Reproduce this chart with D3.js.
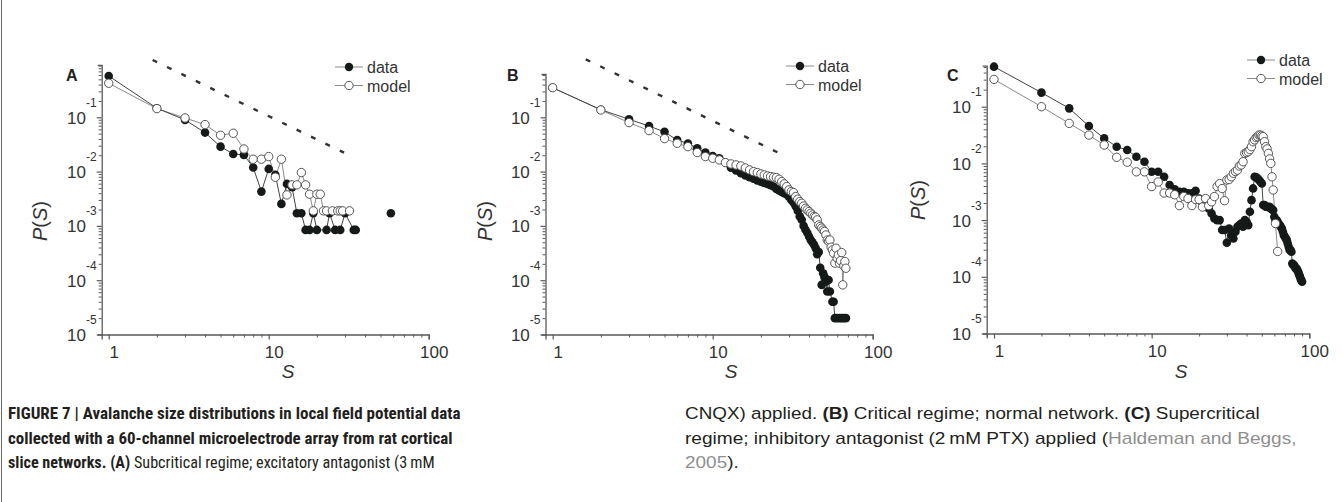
<!DOCTYPE html>
<html><head><meta charset="utf-8">
<script src="https://cdn.jsdelivr.net/npm/d3@7"></script>
<style>
body{margin:0;background:#fff;}
svg{display:block;}
</style></head><body>
<svg id="fig" width="1342" height="502"></svg>
<script>
// ---------------- data ----------------
const panelLabels = ["A", "B", "C"];
const xTickValues = [1, 10, 100];
const yTickExponents = [-1, -2, -3, -4, -5];
const legendLabels = ["data", "model"];

// Panel A (subcritical)
const aDataS  = [1,2,3,4,5,6,7,8,9,10,11,12,13,14,15,16,17,18,19,20,23,24,26,28,30,34,35,null,58];
const aDataP  = [0.577,0.147,0.0893,0.0523,0.0288,0.0211,0.0203,0.0119,0.00428,0.0112,0.00869,0.00254,0.00593,0.00515,0.00171,0.00171,0.000843,0.000843,0.00171,0.000843,0.000843,0.00171,0.000843,0.000843,0.00171,0.000843,0.000843,null,0.00171];
const aModelS = [1,2,3,4,5,6,7,8,9,10,11,12,13,14,15,16,17,18,19,20,21,22,23,25,27,28,29,32];
const aModelP = [0.423,0.1445,0.0972,0.0733,0.0467,0.0508,0.0261,0.0169,0.0169,0.0189,0.00787,0.0169,0.00372,0.00569,0.00569,0.0096,0.00569,0.00383,0.00189,0.00383,0.00383,0.00189,0.00189,0.00189,0.00189,0.00189,0.00189,0.00189];
const aGuideS = [1.88, 29.6];
const aGuideP = [1.135, 0.0223];

// Panel B (critical)
const bDataS  = [1,2,3,4,5,6,7,8,9,10,11,12,13,14,15,16,17,18,19,20,21,22,23,24,25,26,27,28,29,30,31,32,33,34,35,36,37,38,39,40,41,42,43,44,45,46,47,48,49,50,51,52,53,54,56,57,58,60,62,64,66,68];
const bDataP  = [0.35,0.138,0.092,0.069,0.054,0.038,0.033,0.027,0.0224,0.0194,0.0176,0.0147,0.0118,0.0105,0.0093,0.0085,0.0079,0.0074,0.0069,0.0065,0.0062,0.0059,0.0056,0.0053,0.0048,0.0045,0.0042,0.0040,0.0038,0.0034,0.0030,0.0027,0.0023,0.0019,0.0015,0.0013,0.0010,0.00085,0.00075,0.00064,0.00055,0.00050,0.00045,0.00039,0.00030,0.00033,0.00017,0.000082,0.000134,0.000115,0.000095,0.000062,0.000101,0.000062,0.00004,0.00004,0.00002,0.00002,0.00002,0.00002,0.00002,0.00002];
const bModelS = [1,2,3,4,5,6,7,8,9,10,11,12,13,14,15,16,17,18,19,20,21,22,23,24,25,26,27,28,29,30,31,32,33,34,35,36,37,38,39,40,41,42,43,44,45,46,47,48,49,50,51,52,53,54,55,56,57,58,59,60,61,62,63,64,65,66,67,68];
const bModelP = [0.351,0.1364,0.0798,0.0569,0.0405,0.0332,0.0288,0.0224,0.0189,0.0176,0.0164,0.01465,0.01384,0.01327,0.0127,0.01167,0.01074,0.0100,0.0096,0.00906,0.00869,0.00832,0.00809,0.00787,0.00776,0.00723,0.00655,0.00593,0.0053,0.0046,0.00428,0.0041,0.00347,0.0031,0.0028,0.00261,0.00233,0.00211,0.00197,0.00184,0.00171,0.00159,0.00149,0.00145,0.00129,0.00104,0.00097,0.00091,0.00084,0.00079,0.00068,0.00055,0.00052,0.00055,0.000404,0.000361,0.000314,0.000206,0.000388,0.000254,0.000292,0.000206,0.00023,0.000323,0.000082,0.000184,0.000221,0.000166];
const bGuideS = [1.61, 25.7];
const bGuideP = [1.17, 0.0223];

// Panel C (supercritical)
const cDataS  = [1,2,3,4,5,6,7,8,9,10,11,12,13,14,15,16,17,18,19,20,21,22,23,24,25,26,27,28,29,30,31,32,33,34,35,36,37,38,39,40,41,42,43,44,45,46,47,48,49,50,51,52,53,54,55,56,57,58,59,60,61,62,63,64,65,66,67,68,69,70,71,72,73,74,75,76,77,78,79,80,81,82,83,84,85,86,87,88,89,90];
const cDataP  = [0.508,0.177,0.0935,0.0456,0.0276,0.0197,0.0172,0.0131,0.0107,0.00713,0.00713,0.00582,0.00415,0.00348,0.00316,0.00316,0.00296,0.00296,0.0033,0.00241,0.00197,0.00184,0.00161,0.00131,0.00107,0.0010,0.0010,0.000667,0.000667,0.000398,0.000713,0.000543,0.000474,0.000622,0.000762,0.000816,0.000873,0.000762,0.0010,0.000935,0.000816,0.0014,0.00225,0.00362,0.00582,0.00566,0.00543,0.00508,0.00474,0.00443,0.00184,0.00184,0.00172,0.00172,0.00168,0.00172,0.00161,0.00154,0.0015,0.00114,0.0010,0.0010,0.000935,0.00085,0.000816,0.000762,0.000713,0.000622,0.000543,0.000508,0.000474,0.000443,0.000387,0.000338,0.000296,0.000296,0.000276,0.000172,0.000161,0.000161,0.00015,0.00014,0.00014,0.000131,0.000123,0.000111,0.000103,0.0000935,0.0000873,0.0000817];
const cModelS = [1,2,3,4,5,6,7,8,9,10,11,12,13,14,15,16,17,18,19,20,21,22,23,24,25,26,27,28,29,30,31,32,33,34,35,36,37,38,39,40,41,42,43,44,45,46,47,48,49,50,51,52,53,54,55,56,57,58,59,61,63];
const cModelP = [0.303,0.100,0.0508,0.0316,0.0211,0.0128,0.0105,0.0071,0.0071,0.0039,0.0047,0.0030,0.0030,0.0028,0.0018,0.0026,0.0024,0.0018,0.0023,0.0023,0.0017,0.0024,0.0018,0.0021,0.0026,0.0039,0.0044,0.0036,0.0022,0.0051,0.0052,0.0058,0.0067,0.0072,0.0076,0.0090,0.0094,0.0107,0.0150,0.0155,0.0161,0.0175,0.0197,0.0241,0.0260,0.0285,0.0296,0.0316,0.0316,0.0305,0.0296,0.0241,0.0197,0.0180,0.0150,0.0120,0.0100,0.0058,0.0034,0.00087,0.00028];

// caption
const captionLeft = [
  [["b","FIGURE 7 | Avalanche size distributions in local field potential data"]],
  [["b","collected with a 60-channel microelectrode array from rat cortical"]],
  [["b","slice networks. (A)"],["r"," Subcritical regime; excitatory antagonist (3\u2009mM"]]
];
const captionRight = [
  [["r","CNQX) applied. "],["b","(B)"],["r"," Critical regime; normal network. "],["b","(C)"],["r"," Supercritical"]],
  [["r","regime; inhibitory antagonist (2\u2009mM PTX) applied ("],["g","Haldeman and Beggs,"]],
  [["g","2005"],["r",")."]]
];

// ---------------- layout ----------------
const svg = d3.select("#fig");
const FONT = "'Liberation Sans', Arial, Helvetica, sans-serif";
const AXIS = "#5a5a5a";

svg.append("line").attr("x1",1.5).attr("x2",1.5).attr("y1",0).attr("y2",502)
  .attr("stroke","#6a6a6a").attr("stroke-width",1);

const zip = (S, P) => S.map((s, i) => [s, P[i]]);

const panels = [
  { label: panelLabels[0], labelXY: [66, 81],
    xDom: [Math.pow(10,-0.0439), 100], xRng: [101.7, 428.7],
    yDom: [1e-5, Math.pow(10,-0.037)], yRng: [334.5, 65],
    data: zip(aDataS, aDataP), model: zip(aModelS, aModelP), guide: zip(aGuideS, aGuideP),
    legend: [335, 67], yLab: [47, 221], xLab: [288, 378] },
  { label: panelLabels[1], labelXY: [507, 81],
    xDom: [Math.pow(10,-0.045), 100], xRng: [545.5, 872.7],
    yDom: [1e-5, Math.pow(10,-0.2026)], yRng: [334.5, 74],
    data: zip(bDataS, bDataP), model: zip(bModelS, bModelP), guide: zip(bGuideS, bGuideP),
    legend: [786, 66], yLab: [492, 221], xLab: [731, 378] },
  { label: panelLabels[2], labelXY: [947, 81],
    xDom: [Math.pow(10,-0.0463), 100], xRng: [986.7, 1309.3],
    yDom: [1e-5, Math.pow(10,-0.277)], yRng: [333.5, 65.7],
    data: zip(cDataS, cDataP), model: zip(cModelS, cModelP), guide: null,
    legend: [1247, 60], yLab: [925, 200], xLab: [1181, 378] }
];

function minorTicks(lo, hi) {
  const out = [];
  for (let e = Math.floor(Math.log10(lo)); e <= Math.ceil(Math.log10(hi)); e++) {
    for (let m = 2; m <= 9; m++) {
      const v = m * Math.pow(10, e);
      if (v > lo && v < hi) out.push(v);
    }
  }
  return out;
}

panels.forEach(p => {
  const g = svg.append("g");
  const x = d3.scaleLog().domain(p.xDom).range(p.xRng);
  const y = d3.scaleLog().domain(p.yDom).range(p.yRng);
  const y0 = p.yRng[0], x0 = p.xRng[0];

  // x axis
  const gx = g.append("g").attr("transform", `translate(0,${y0})`)
    .call(d3.axisBottom(x).tickValues(xTickValues).tickSize(5).tickSizeOuter(5).tickFormat(d3.format("d")));
  gx.select(".domain").attr("stroke", AXIS).attr("stroke-width", 1.3);
  gx.selectAll(".tick line").attr("stroke", AXIS).attr("stroke-width", 1.2);
  gx.selectAll(".tick text").attr("y", 11).attr("dx", 5)
    .attr("font-family", FONT).attr("font-size", 17).attr("fill", "#333");
  const gxm = g.append("g").attr("transform", `translate(0,${y0})`)
    .call(d3.axisBottom(x).tickValues(minorTicks(p.xDom[0], p.xDom[1])).tickSize(3).tickFormat(""));
  gxm.select(".domain").remove();
  gxm.selectAll(".tick line").attr("stroke", AXIS);

  // y axis
  const yTicks = yTickExponents.map(e => Math.pow(10, e));
  const gy = g.append("g").attr("transform", `translate(${x0},0)`)
    .call(d3.axisLeft(y).tickValues(yTicks).tickSize(5).tickSizeOuter(4).tickFormat(d => d));
  gy.select(".domain").attr("stroke", AXIS).attr("stroke-width", 1.3);
  gy.selectAll(".tick line").attr("stroke", AXIS).attr("stroke-width", 1.2);
  gy.selectAll(".tick text").each(function(d) {
    const t = d3.select(this).text(null).attr("x", -5).attr("y", 6).attr("dy", null)
      .attr("font-family", FONT).attr("fill", "#333").attr("text-anchor", "end");
    t.append("tspan").attr("font-size", 17).text("10");
    t.append("tspan").attr("font-size", 12).attr("dy", -17).text(Math.round(Math.log10(d)));
  });
  const gym = g.append("g").attr("transform", `translate(${x0},0)`)
    .call(d3.axisLeft(y).tickValues(minorTicks(p.yDom[0], p.yDom[1])).tickSize(3).tickFormat(""));
  gym.select(".domain").remove();
  gym.selectAll(".tick line").attr("stroke", AXIS);

  // axis labels
  g.append("text").attr("x", p.xLab[0]).attr("y", p.xLab[1]).attr("text-anchor", "middle")
    .attr("font-family", FONT).attr("font-size", 19).attr("font-style", "italic").attr("fill", "#333").text("S");
  const yl = g.append("text").attr("transform", `translate(${p.yLab[0]},${p.yLab[1]}) rotate(-90)`)
    .attr("text-anchor", "middle").attr("font-family", FONT).attr("font-size", 20).attr("fill", "#333");
  yl.append("tspan").attr("font-style", "italic").text("P");
  yl.append("tspan").text("(");
  yl.append("tspan").attr("font-style", "italic").text("S");
  yl.append("tspan").text(")");

  // panel letter
  g.append("text").attr("x", p.labelXY[0]).attr("y", p.labelXY[1])
    .attr("font-family", FONT).attr("font-size", 16).attr("font-weight", "bold").attr("fill", "#222").text(p.label);

  // guide (dotted power-law)
  if (p.guide) {
    g.append("path").datum(p.guide)
      .attr("d", d3.line().x(d => x(d[0])).y(d => y(d[1])))
      .attr("fill", "none").attr("stroke", "#333").attr("stroke-width", 2.4)
      .attr("stroke-dasharray", "5 11");
  }

  const line = d3.line().defined(d => d[0] != null && d[1] != null).x(d => x(d[0])).y(d => y(d[1]));
  g.append("path").datum(p.model).attr("d", line).attr("fill", "none").attr("stroke", "#8a8a8a").attr("stroke-width", 1);
  g.append("path").datum(p.data).attr("d", line).attr("fill", "none").attr("stroke", "#444").attr("stroke-width", 1);

  g.append("g").selectAll("circle").data(p.data.filter(d => d[0] != null)).join("circle")
    .attr("cx", d => x(d[0])).attr("cy", d => y(d[1])).attr("r", 4.3).attr("fill", "#151a18");
  g.append("g").selectAll("circle").data(p.model).join("circle")
    .attr("cx", d => x(d[0])).attr("cy", d => y(d[1])).attr("r", 4.2)
    .attr("fill", "#fff").attr("stroke", "#555").attr("stroke-width", 1);

  // legend
  const lg = g.append("g").attr("transform", `translate(${p.legend[0]},${p.legend[1]})`);
  legendLabels.forEach((lab, i) => {
    const yy = i * 18.5;
    lg.append("line").attr("x1", 0).attr("x2", 28).attr("y1", yy).attr("y2", yy).attr("stroke", "#8a8a8a");
    lg.append("circle").attr("cx", 14).attr("cy", yy).attr("r", 4.2)
      .attr("fill", i === 0 ? "#151a18" : "#fff").attr("stroke", i === 0 ? "none" : "#555");
    lg.append("text").attr("x", 32).attr("y", yy + 6).attr("font-family", FONT).attr("font-size", 16)
      .attr("fill", "#333").text(lab);
  });
});

// caption
function drawCaption(lines, x0, widths, font) {
  const texts = lines.map((segs, i) => {
    const t = svg.append("text").attr("font-family", font).attr("font-size", 17).attr("fill", "#231f20");
    segs.forEach(([k, s]) => {
      t.append("tspan").attr("font-weight", k === "b" ? "bold" : "normal")
        .attr("fill", k === "g" ? "#8f8f8f" : "#231f20").text(s);
    });
    return t;
  });
  const scales = texts.map((t, i) => widths[i] ? widths[i] / t.node().getComputedTextLength() : null);
  const known = scales.filter(s => s);
  const avg = known.reduce((a, b) => a + b, 0) / known.length;
  texts.forEach((t, i) => {
    const s = scales[i] || avg;
    t.attr("transform", `translate(${x0},${419 + i * 24.5}) scale(${s},1)`);
  });
}
drawCaption(captionLeft, 8, [453, 445, 427], "'Roboto Condensed', 'Liberation Sans', sans-serif");
drawCaption(captionRight, 685, [575, 612, null], "'Liberation Sans', Arial, sans-serif");
</script>
</body></html>
